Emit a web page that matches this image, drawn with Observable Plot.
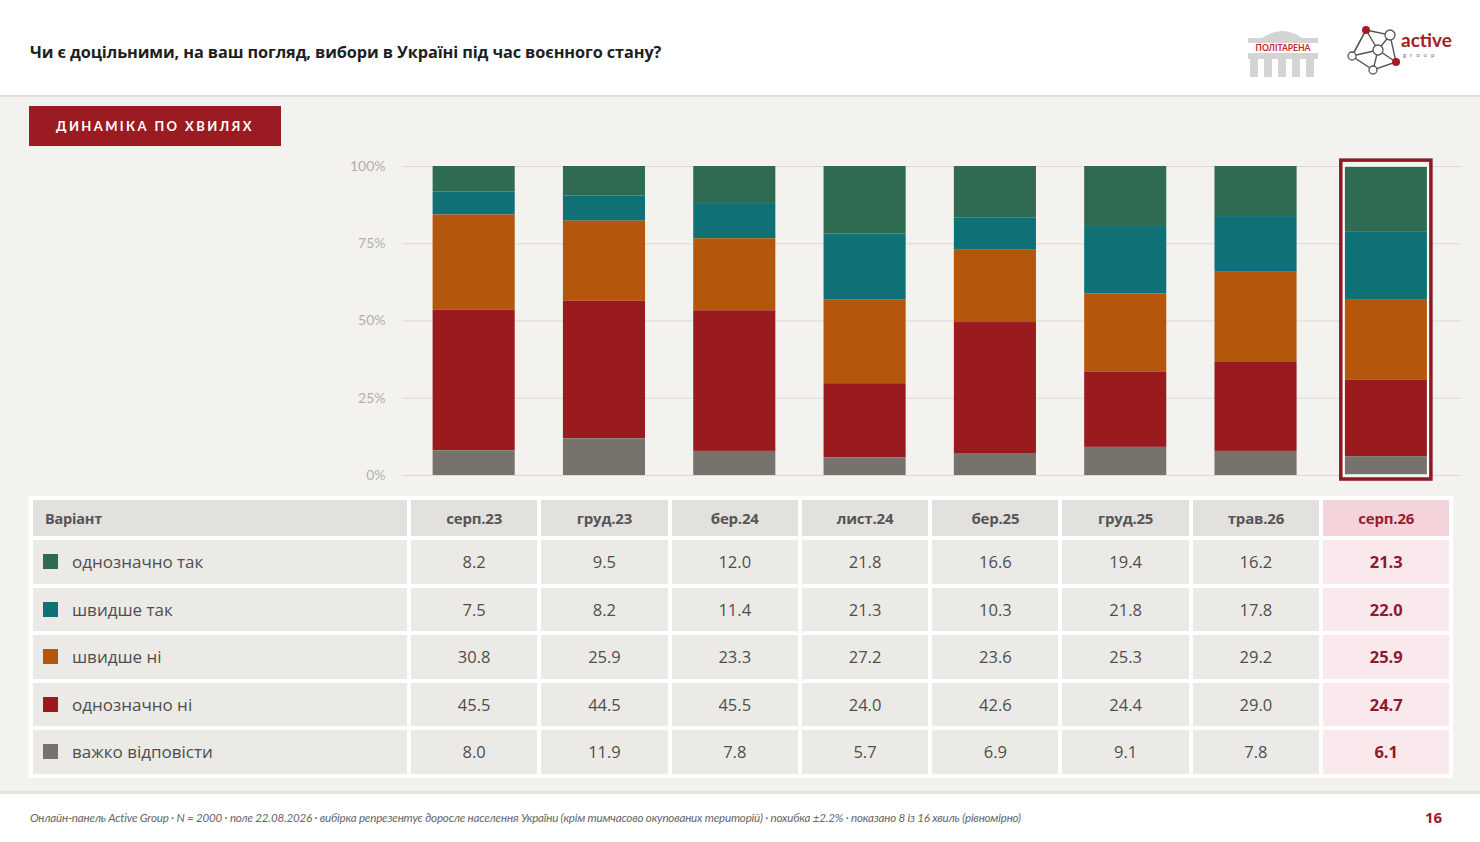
<!DOCTYPE html>
<html>
<head>
<meta charset="utf-8">
<script src="https://cdn.jsdelivr.net/npm/d3@7"></script>
<script src="https://cdn.jsdelivr.net/npm/@observablehq/plot@0.6"></script>
<style>
  html,body{margin:0;padding:0;}
  body{width:1480px;height:842px;background:#f4f2ee;font-family:"Open Sans",Lato,sans-serif;position:relative;overflow:hidden;}
  #header{position:absolute;left:0;top:0;width:1480px;height:95px;background:#fff;border-bottom:2px solid #e2e0dc;}
  #title{position:absolute;left:30px;top:41px;font-size:16.3px;font-weight:700;color:#1e1e1e;letter-spacing:-0.1px;}
  #badge{position:absolute;left:29px;top:106px;width:252px;height:40px;background:#9b1b22;color:#fff;font-weight:700;font-size:13px;letter-spacing:2.4px;display:flex;align-items:center;justify-content:center;font-family:Lato,sans-serif;}
  #chart{position:absolute;left:0;top:150px;}
  #tbl{position:absolute;left:29px;top:496px;border-collapse:separate;border-spacing:4px;background:#fff;}
  #tbl td,#tbl th{padding:0;font-size:16.5px;color:#4e4e4e;}
  #tbl th{height:36px;background:#e3e1de;font-size:15px;font-weight:700;color:#555;letter-spacing:-0.2px;}
  #tbl td{height:43.5px;background:#ebeae7;text-align:center;}
  #tbl th.first{text-align:left;padding-left:12px;font-size:14.5px;}
  #tbl td.first{text-align:left;padding-left:10px;font-size:17px;}
  #tbl .sw{display:inline-block;width:15px;height:15px;vertical-align:-1px;margin-right:14px;}
  #tbl th.hl{background:#f4d4da;color:#9b1b30;}
  #tbl td.hl{background:#f9e9ec;color:#8f1a2c;font-weight:700;}
  #footer{position:absolute;left:0;top:791px;width:1480px;height:51px;background:#fff;border-top:3px solid #e6e4e1;}
  #note{position:absolute;left:30px;top:17px;font-size:11.6px;font-style:italic;color:#666;letter-spacing:-0.2px;font-family:Lato,sans-serif;}
  #page{position:absolute;left:1425px;top:13px;font-size:15px;font-weight:700;color:#9b1b30;}
</style>
</head>
<body>
<div id="header">
  <div id="title">Чи є доцільними, на ваш погляд, вибори в Україні під час воєнного стану?</div>
  <svg style="position:absolute;left:1240px;top:20px" width="230" height="64">
    <g fill="#d4d4d4">
      <path d="M22 18 Q42 4 62 18 Z"/>
      <rect x="8" y="18" width="70" height="5"/>
      <rect x="8" y="33" width="70" height="6"/>
      <rect x="10" y="39" width="8" height="18"/><rect x="24" y="39" width="8" height="18"/>
      <rect x="38" y="39" width="8" height="18"/><rect x="52" y="39" width="8" height="18"/><rect x="66" y="39" width="8" height="18"/>
    </g>
    <text x="43" y="31" text-anchor="middle" font-size="8.5" font-weight="700" fill="#c0272d" font-family="Lato">ПОЛІТАРЕНА</text>
    <g stroke="#555" stroke-width="1.4" fill="none">
      <path d="M126 10 L150 15 L156 42 L133 50 L112 36 Z"/>
      <path d="M126 10 L138 30 L156 42 M138 30 L112 36 M150 15 L138 30 L133 50 M126 10 L112 36"/>
    </g>
    <g stroke="#555" stroke-width="1.3" fill="#fff">
      <circle cx="150" cy="15" r="5"/><circle cx="138" cy="30" r="5"/><circle cx="112" cy="36" r="4"/><circle cx="133" cy="50" r="4"/>
    </g>
    <circle cx="126" cy="10" r="4" fill="#a51c24"/>
    <circle cx="156" cy="42" r="4" fill="#a51c24"/>
    <text x="161" y="27" font-size="19" font-weight="700" fill="#a51c24" font-family="Lato">active</text>
    <text x="163" y="37" font-size="6" letter-spacing="4" fill="#777" font-family="Lato">group</text>
  </svg>
</div>
<div id="badge">ДИНАМІКА ПО ХВИЛЯХ</div>
<div id="chart"></div>
<table id="tbl"></table>
<div id="footer">
  <div id="note">Онлайн-панель Active Group · N = 2000 · поле 22.08.2026 · вибірка репрезентує доросле населення України (крім тимчасово окупованих територій) · похибка ±2.2% · показано 8 із 16 хвиль (рівномірно)</div>
  <div id="page">16</div>
</div>
<script>
const waves = ["серп.23","груд.23","бер.24","лист.24","бер.25","груд.25","трав.26","серп.26"];
const categories = ["однозначно так","швидше так","швидше ні","однозначно ні","важко відповісти"];
const colors = ["#2f6b50","#0f7075","#b4560c","#9a1b1e","#78726d"];
const definitelyYes = [8.2, 9.5, 12.0, 21.8, 16.6, 19.4, 16.2, 21.3];
const ratherYes     = [7.5, 8.2, 11.4, 21.3, 10.3, 21.8, 17.8, 22.0];
const ratherNo      = [30.8, 25.9, 23.3, 27.2, 23.6, 25.3, 29.2, 25.9];
const definitelyNo  = [45.5, 44.5, 45.5, 24.0, 42.6, 24.4, 29.0, 24.7];
const hardToSay     = [8.0, 11.9, 7.8, 5.7, 6.9, 9.1, 7.8, 6.1];
const yTicks = [0, 25, 50, 75, 100];
const highlightWave = "серп.26";

const series = [definitelyYes, ratherYes, ratherNo, definitelyNo, hardToSay];
const stackOrder = categories.slice().reverse();
const data = [];
categories.forEach((c, i) => waves.forEach((w, j) => data.push({wave: w, category: c, value: series[i][j]})));

const chart = Plot.plot({
  width: 1480, height: 340,
  marginLeft: 402, marginRight: 19, marginTop: 16, marginBottom: 15,
  style: {background: "transparent", fontFamily: "Lato, 'Open Sans', sans-serif", fontSize: "14px", color: "#b3afab", overflow: "visible"},
  x: {domain: waves, range: [408.5, 1451], paddingInner: 0.37, paddingOuter: 0.185, round: false, axis: null},
  y: {domain: [0, 100], ticks: yTicks, tickFormat: d => d + "%", tickSize: 0, tickPadding: 17, label: null},
  color: {domain: categories, range: colors},
  marks: [
    Plot.gridY(yTicks, {stroke: "#dcd9d4", strokeOpacity: 1, strokeWidth: 1}),
    Plot.barY(data, {x: "wave", y: "value", fill: "category", z: "category", order: stackOrder}),
    Plot.barY([highlightWave], {x: d => d, y1: -1.3, y2: 101.9, fill: "none", stroke: "#8c1a24", strokeWidth: 3.5, insetLeft: -4, insetRight: -4}),
    Plot.barY([highlightWave], {x: d => d, y1: 0, y2: 100, fill: "none", stroke: "#ffffff", strokeWidth: 1.5, insetLeft: -1, insetRight: -1})
  ]
});
document.getElementById("chart").appendChild(chart);

// table
const tbl = document.getElementById("tbl");
let html = '<tr><th class="first" style="width:362px">Варіант</th>';
waves.forEach(w => { html += `<th style="width:126.3px" class="${w === highlightWave ? "hl" : ""}">${w}</th>`; });
html += '</tr>';
categories.forEach((c, i) => {
  html += `<tr><td class="first"><span class="sw" style="background:${colors[i]}"></span>${c}</td>`;
  waves.forEach((w, j) => { html += `<td class="${w === highlightWave ? "hl" : ""}">${series[i][j].toFixed(1)}</td>`; });
  html += '</tr>';
});
tbl.innerHTML = html;
</script>
</body>
</html>
